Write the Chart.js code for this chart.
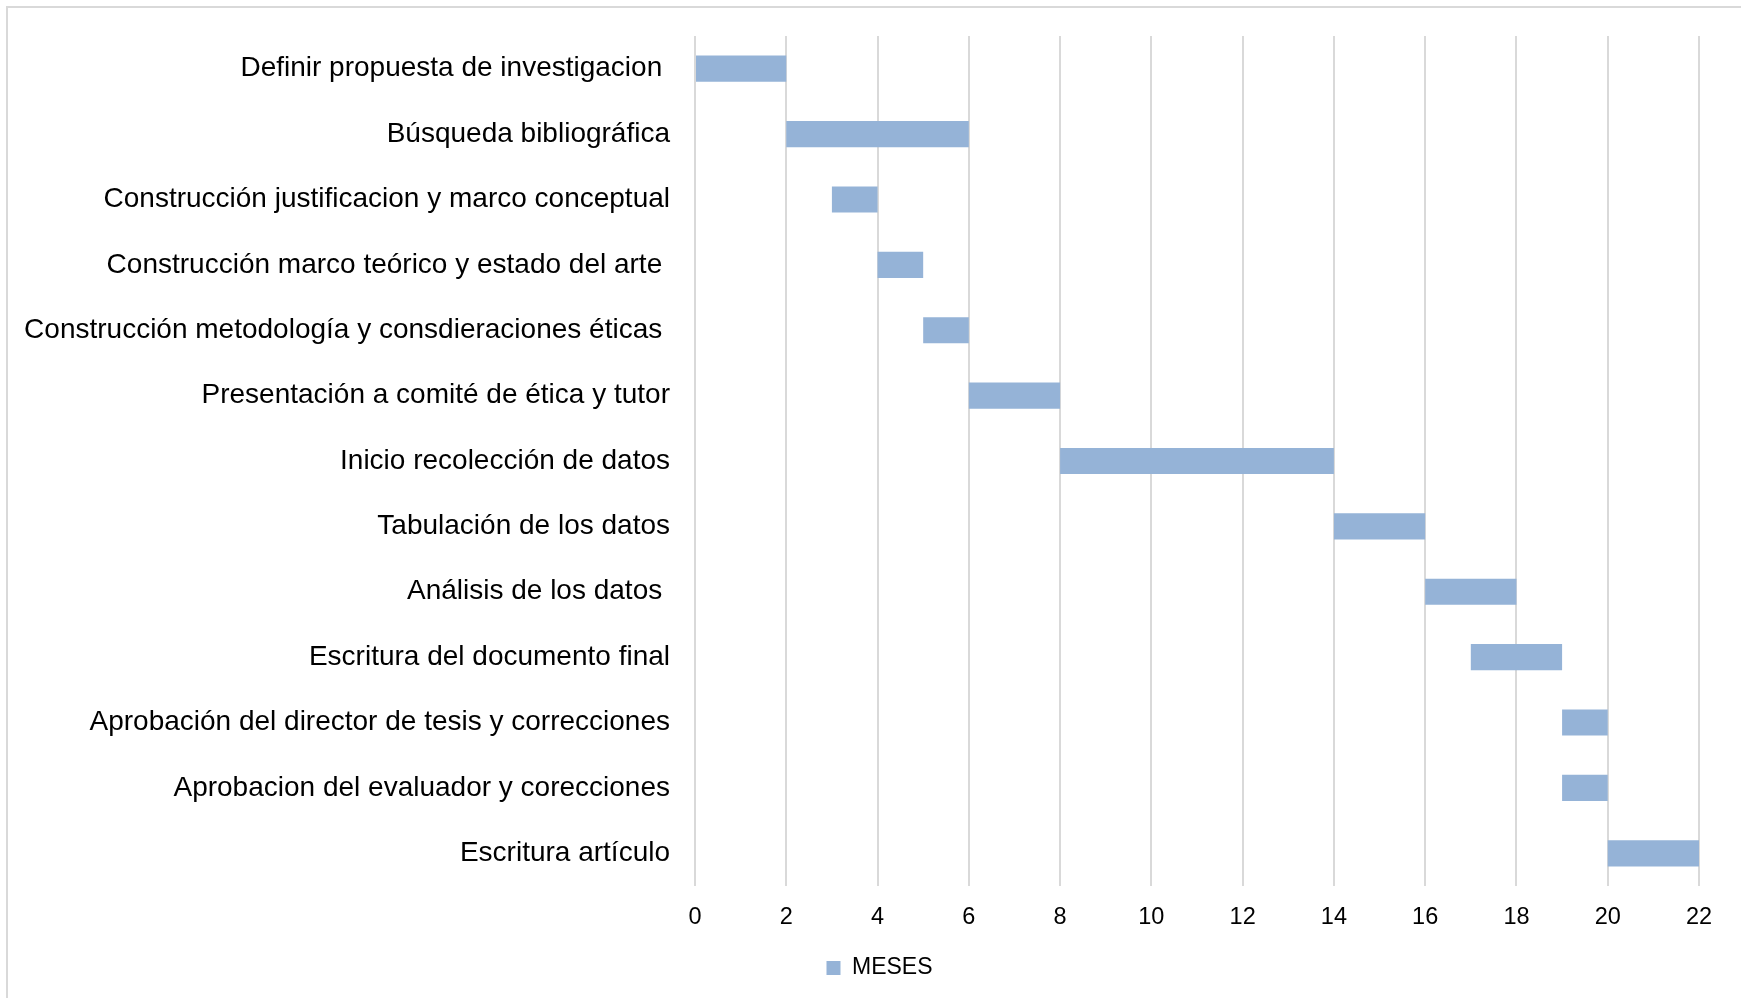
<!DOCTYPE html>
<html>
<head>
<meta charset="utf-8">
<script src="https://cdn.jsdelivr.net/npm/chart.js@4.4.0/dist/chart.umd.min.js"></script>
<style>
  html, body { margin: 0; padding: 0; background: #ffffff; }
  #wrap { position: relative; width: 1741px; height: 998px; overflow: hidden; }
  #frame { position: absolute; left: 6px; top: 6px; width: 1800px; height: 1100px;
           border-top: 2px solid #d9d9d9; border-left: 2px solid #d9d9d9; box-sizing: border-box; }
  #c { position: absolute; left: 0; top: 0; }
</style>
</head>
<body>
<div id="wrap">
  <div id="frame"></div>
  <canvas id="c" width="1741" height="998"></canvas>
</div>
<script>
// Activities of the research schedule (top to bottom)
const tareas = [
  "Definir propuesta de investigacion ",
  "Búsqueda bibliográfica",
  "Construcción justificacion y marco conceptual",
  "Construcción marco teórico y estado del arte ",
  "Construcción metodología y consdieraciones éticas ",
  "Presentación a comité de ética y tutor",
  "Inicio recolección de datos",
  "Tabulación de los datos",
  "Análisis de los datos ",
  "Escritura del documento final",
  "Aprobación del director de tesis y correcciones",
  "Aprobacion del evaluador y corecciones",
  "Escritura artículo"
];

// Start and end month of each activity
const inicioMes = [0, 2, 3, 4, 5, 6, 8, 14, 16, 17, 19, 19, 20];
const finMes    = [2, 6, 4, 5, 6, 8, 14, 16, 18, 19, 20, 20, 22];

// Month axis
const mesMin = 0;
const mesMax = 22;
const mesPaso = 2;

const serieNombre = "MESES";
const colorBarra = "#95b3d7";
const fuente = "'Liberation Sans', Arial, Helvetica, sans-serif";

const rangos = tareas.map((_, i) => [inicioMes[i], finMes[i]]);

new Chart(document.getElementById("c"), {
  type: "bar",
  data: {
    labels: tareas,
    datasets: [{
      label: serieNombre,
      data: rangos,
      backgroundColor: colorBarra,
      borderWidth: 0,
      barPercentage: 0.4,
      categoryPercentage: 1.0
    }]
  },
  options: {
    indexAxis: "y",
    responsive: false,
    animation: false,
    layout: { padding: { left: 18, right: 0, top: 36, bottom: 8.5 } },
    plugins: {
      tooltip: { enabled: false },
      legend: {
        position: "bottom",
        align: "center",
        labels: {
          boxWidth: 14,
          boxHeight: 14,
          padding: 20.5,
          color: "#000000",
          font: { family: fuente, size: 23 }
        }
      }
    },
    scales: {
      x: {
        type: "linear",
        position: "bottom",
        min: mesMin,
        max: mesMax,
        afterFit: (s) => { s.height = 50; },
        ticks: {
          stepSize: mesPaso,
          padding: 17,
          color: "#000000",
          font: { family: fuente, size: 23.5 }
        },
        grid: { color: "#d9d9d9", lineWidth: 2, drawTicks: false },
        border: { display: false }
      },
      y: {
        afterFit: (s) => { s.width = 677; s.paddingTop = 0; s.paddingBottom = 0; },
        ticks: {
          autoSkip: false,
          padding: 25,
          color: "#000000",
          font: { family: fuente, size: 28 }
        },
        grid: { display: false, drawTicks: false },
        border: { display: false }
      },
      // empty right-hand margin column, keeps the plot clear of the frame edge
      margenDerecho: {
        type: "category",
        axis: "y",
        position: "right",
        ticks: { display: false },
        grid: { display: false, drawTicks: false },
        border: { display: false },
        afterFit: (s) => { s.width = 42; s.paddingTop = 0; s.paddingBottom = 0; }
      }
    }
  }
});
</script>
</body>
</html>
